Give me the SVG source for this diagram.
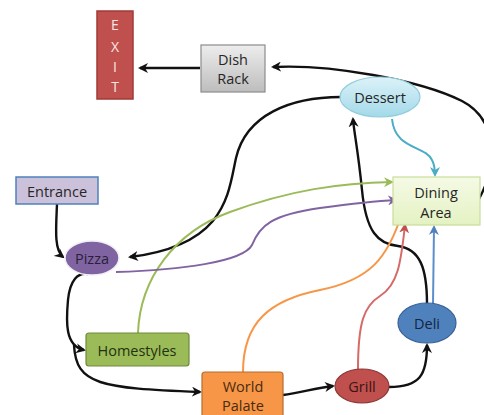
<svg xmlns="http://www.w3.org/2000/svg" width="484" height="415" viewBox="0 0 484 415">
<style>
text{font-family:"Open Sans","Noto Sans","Liberation Sans",sans-serif;font-size:14.5px;fill:#262626;text-anchor:middle;dominant-baseline:central}
.ex{fill:#F9E6E5;font-size:14px}
.blk{fill:none;stroke:#111;stroke-width:2.4;marker-end:url(#ab)}
.col{fill:none;stroke-width:2}
</style>
<defs>
<marker id="ab" viewBox="0 0 10 10" refX="8" refY="5" markerWidth="4.2" markerHeight="4.2" orient="auto" markerUnits="strokeWidth"><path d="M0,0 L10,5 L0,10 L3,5 Z" fill="#111"/></marker>
<marker id="at" viewBox="0 0 10 10" refX="8" refY="5" markerWidth="5" markerHeight="5" orient="auto" markerUnits="strokeWidth"><path d="M0,0 L10,5 L0,10 L3,5 Z" fill="#4BACC6"/></marker>
<marker id="ag" viewBox="0 0 10 10" refX="8" refY="5" markerWidth="5" markerHeight="5" orient="auto" markerUnits="strokeWidth"><path d="M0,0 L10,5 L0,10 L3,5 Z" fill="#9BBB59"/></marker>
<marker id="ap" viewBox="0 0 10 10" refX="8" refY="5" markerWidth="5" markerHeight="5" orient="auto" markerUnits="strokeWidth"><path d="M0,0 L10,5 L0,10 L3,5 Z" fill="#8064A2"/></marker>
<marker id="ao" viewBox="0 0 10 10" refX="8" refY="5" markerWidth="5" markerHeight="5" orient="auto" markerUnits="strokeWidth"><path d="M0,0 L10,5 L0,10 L3,5 Z" fill="#F79646"/></marker>
<marker id="ar" viewBox="0 0 10 10" refX="8" refY="5" markerWidth="5" markerHeight="5" orient="auto" markerUnits="strokeWidth"><path d="M0,0 L10,5 L0,10 L3,5 Z" fill="#C0504D"/></marker>
<marker id="au" viewBox="0 0 10 10" refX="8" refY="5" markerWidth="5" markerHeight="5" orient="auto" markerUnits="strokeWidth"><path d="M0,0 L10,5 L0,10 L3,5 Z" fill="#4F81BD"/></marker>
<linearGradient id="gGray" x1="0" y1="0" x2="0" y2="1"><stop offset="0" stop-color="#EDEDED"/><stop offset="1" stop-color="#BDBDBD"/></linearGradient>
<linearGradient id="gBlue" x1="0" y1="0" x2="0" y2="1"><stop offset="0" stop-color="#DCF2F8"/><stop offset="1" stop-color="#A3D9E9"/></linearGradient>
<linearGradient id="gGreen" x1="0" y1="0" x2="0" y2="1"><stop offset="0" stop-color="#F5FAE6"/><stop offset="1" stop-color="#E4F2C2"/></linearGradient>
</defs>

<g id="connectors">
<path class="blk" d="M200,68 L140,68"/>
<path class="blk" d="M479,199 C500,160 495,118 462,101 C420,80 330,64 273,67"/>
<path class="blk" d="M57,204 C56,228 54,250 63,257"/>
<path class="blk" d="M88,274 C78,272 70,280 68,300 C66,322 65,346 84,350"/>
<path class="blk" d="M74,345 C76,385 100,388 200,392"/>
<path class="blk" d="M283,395 C300,393 315,388 333,386"/>
<path class="blk" d="M389,387 C420,387 427,375 427,345"/>
<path class="blk" d="M427,304 C427,268 420,249 398,246 C378,244 366,232 362,190 C358,150 354,132 353,119"/>
<path class="blk" d="M341,97 C290,97 246,115 236,158 C228,195 226,245 130,257"/>
<path class="col" stroke="#4BACC6" marker-end="url(#at)" d="M392,119 C395,150 425,145 432,160 C435,166 435,170 435,175"/>
<path class="col" stroke="#9BBB59" marker-end="url(#ag)" d="M138,333 C140,278 175,232 230,212 C290,190 340,183 392,182"/>
<path class="col" stroke="#8064A2" marker-end="url(#ap)" d="M116,272 C180,270 243,262 252,245 C260,225 272,215 320,208 C350,204 378,201 396,200"/>
<path class="col" stroke="#F79646" marker-end="url(#ao)" d="M243,372 C243,322 270,300 320,290 C370,280 388,258 402,213"/>
<path class="col" stroke="#D56A67" marker-end="url(#ar)" d="M358,370 C358,322 364,306 380,296 C398,285 401,262 405,225"/>
<path class="col" stroke="#5B8FCC" marker-end="url(#au)" d="M433,304 L434,227"/>
</g>

<g id="exit">
<rect x="97" y="11" width="36" height="88" fill="#C0504D" stroke="#A13A37" stroke-width="1.5"/>
<text class="ex" x="115" y="24">E</text>
<text class="ex" x="115" y="46">X</text>
<text class="ex" x="115" y="66">I</text>
<text class="ex" x="115" y="86">T</text>
</g>
<g id="dishrack">
<rect x="201" y="45" width="64" height="47" fill="url(#gGray)" stroke="#8C8C8C" stroke-width="1.2"/>
<text x="233" y="59">Dish</text>
<text x="233" y="78">Rack</text>
</g>
<g id="dessert">
<ellipse cx="380" cy="97" rx="40" ry="20" fill="url(#gBlue)" stroke="#93CDDD" stroke-width="1.2"/>
<text x="380" y="97">Dessert</text>
</g>
<g id="dining">
<rect x="393" y="177" width="87" height="48" fill="url(#gGreen)" stroke="#C9DE9A" stroke-width="1.2"/>
<text x="436" y="192">Dining</text>
<text x="436" y="212">Area</text>
</g>
<g id="entrance">
<rect x="16" y="177" width="82" height="27" fill="#CCC1DA" stroke="#4F81BD" stroke-width="1.5"/>
<text x="57" y="191">Entrance</text>
</g>
<g id="pizza">
<ellipse cx="92" cy="258" rx="27" ry="17" fill="#8064A2" stroke="#F2EEF7" stroke-width="1.5"/>
<text x="92" y="258" style="fill:#2A1F38">Pizza</text>
</g>
<g id="homestyles">
<rect x="86" y="333" width="103" height="33" rx="3" fill="#9BBB59" stroke="#71893F" stroke-width="1.2"/>
<text x="137" y="350" style="fill:#24310F">Homestyles</text>
</g>
<g id="worldpalate">
<rect x="202" y="372" width="81" height="46" rx="3" fill="#F79646" stroke="#B66D31" stroke-width="1.2"/>
<text x="243" y="386" style="fill:#4A2A10">World</text>
<text x="243" y="405" style="fill:#4A2A10">Palate</text>
</g>
<g id="grill">
<ellipse cx="362" cy="386" rx="27" ry="17" fill="#C0504D" stroke="#8C3836" stroke-width="1.2"/>
<text x="362" y="386" style="fill:#3A1514">Grill</text>
</g>
<g id="deli">
<ellipse cx="427" cy="323" rx="29" ry="20" fill="#4F81BD" stroke="#3A6296" stroke-width="1.2"/>
<text x="427" y="323" style="fill:#14253F">Deli</text>
</g>
</svg>
